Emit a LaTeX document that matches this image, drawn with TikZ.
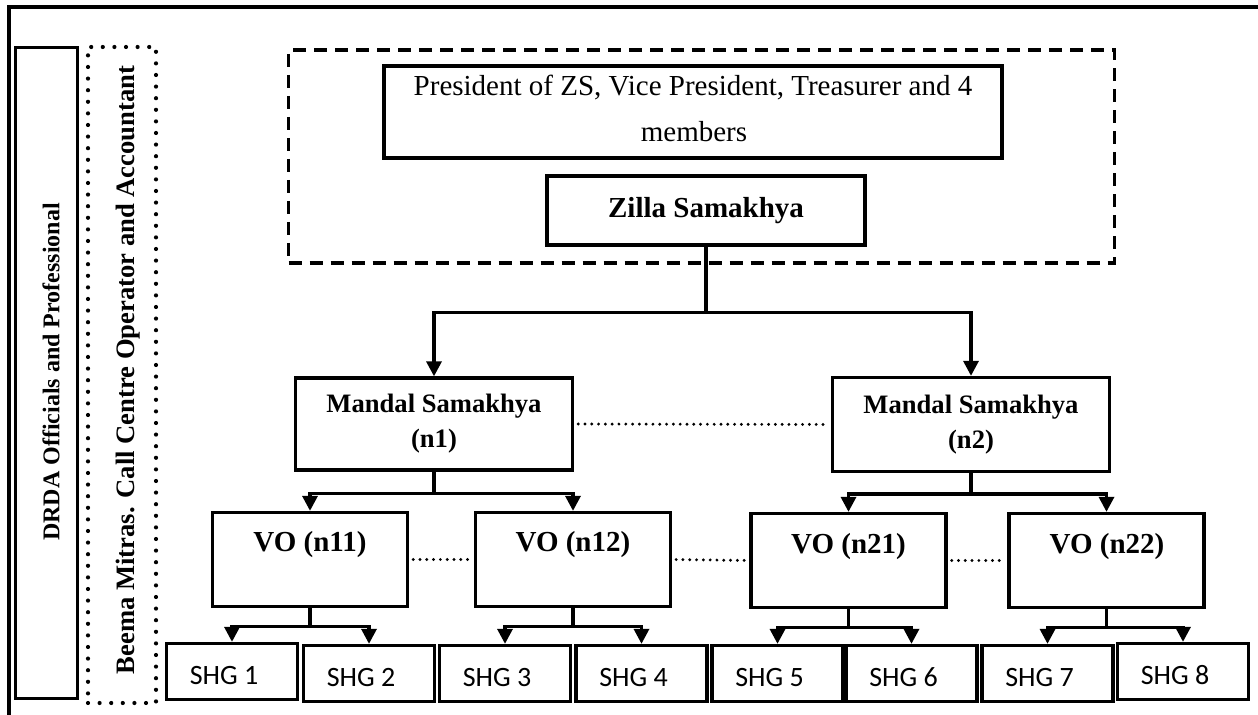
\documentclass[tikz,border=0pt]{standalone}
\usepackage{fontspec}
\setmainfont{Liberation Serif}
\newfontfamily\shgfont{Carlito}
\usetikzlibrary{arrows.meta}
\begin{document}
\begin{tikzpicture}[x=0.5pt,y=-0.5pt,
  box/.style={draw, line width=1.65pt, inner sep=0pt, align=center},
  dashbox/.style={draw, line width=1.6pt, inner sep=0pt, dash pattern=on 6.5pt off 4pt},
  dotbox/.style={draw, line width=2.1pt, inner sep=0pt, dash pattern=on 0pt off 5.8pt, line cap=round},
  conn/.style={line width=1.65pt, -{Triangle[width=7.5pt,length=7.5pt]}},
  dotline/.style={line width=1.6pt, dash pattern=on 0pt off 3.4pt, line cap=round, shorten <=2pt, shorten >=2pt},
  serif/.style={font=\fontsize{14.5}{17}\selectfont, inner sep=0pt},
  bserif/.style={font=\bfseries\fontsize{14.5}{17}\selectfont},
  mandal/.style={box, font=\bfseries\fontsize{13.3}{17.5}\selectfont, minimum width=138.5pt, minimum height=46pt},
  vobox/.style={box, minimum width=97.5pt, minimum height=47pt},
  votext/.style={font=\bfseries\fontsize{14.5}{17}\selectfont, inner sep=0pt, anchor=base},
  shg/.style={box, font=\shgfont\fontsize{14}{16}\selectfont, minimum width=65.5pt, minimum height=28pt, text height=12.5pt, text depth=0pt},
  vtext/.style={rotate=90, inner sep=0pt}
]
\useasboundingbox (0,0) rectangle (1258,715);
% outer frame
\coordinate (fbl) at (9,715);
\coordinate (ftl) at (9,7);
\coordinate (ftr) at (1258,7);
\draw[line width=1.8pt] (fbl) -- (ftl) -- (ftr);

% left vertical boxes
\node[box, minimum width=31pt, minimum height=325.5pt] (drda) at (46.5,373) {};
\node[vtext, font=\bfseries\fontsize{12}{14}\selectfont] (drdat) at (51,372) {DRDA Officials and Professional};
\node[dotbox, minimum width=34pt, minimum height=328pt] (beema) at (122,375) {};
\node[vtext, font=\bfseries\fontsize{13.3}{15}\selectfont] (beemat) at (128,370) {Beema Mitras. Call Centre Operator and Accountant};

% top group
\node[dashbox, minimum width=413pt, minimum height=106.5pt] (grp) at (701.5,156.5) {};
\node[box, minimum width=309pt, minimum height=46pt] (pres) at (693,112) {};
\node[serif, anchor=base] (pres1) at (693,96) {President of ZS, Vice President, Treasurer and 4};
\node[serif, anchor=base] (pres2) at (694,142) {members};
\node[box, bserif, minimum width=159pt, minimum height=34.5pt] (zilla) at (706,210.5) {Zilla Samakhya};

% mandal level
\node[mandal] (ms1) at (434,424) {Mandal Samakhya\\(n1)};
\node[mandal, minimum height=47pt] (ms2) at (971,424.5) {Mandal Samakhya\\(n2)};

% VO level
\node[vobox] (vo11) at (310,559.5) {};
\node[votext] (vo11t) at (310,552) {VO (n11)};
\node[vobox] (vo12) at (573,559.5) {};
\node[votext] (vo12t) at (573,552) {VO (n12)};
\node[vobox] (vo21) at (848.5,560.5) {};
\node[votext] (vo21t) at (848.5,553) {VO (n21)};
\node[vobox] (vo22) at (1106.5,560.5) {};
\node[votext] (vo22t) at (1107,553) {VO (n22)};

% SHG level
\node[shg] (shg1) at (232,671.5) {SHG 1\hspace{8pt}};
\node[shg] (shg2) at (369,673.5) {SHG 2\hspace{8pt}};
\node[shg] (shg3) at (505,673.5) {SHG 3\hspace{8pt}};
\node[shg] (shg4) at (641.5,673.5) {SHG 4\hspace{8pt}};
\node[shg] (shg5) at (777.5,673.5) {SHG 5\hspace{8pt}};
\node[shg] (shg6) at (911.5,673.5) {SHG 6\hspace{8pt}};
\node[shg] (shg7) at (1047.5,673.5) {SHG 7\hspace{8pt}};
\node[shg] (shg8) at (1183,671.5) {SHG 8\hspace{8pt}};

% connectors
\draw[conn] (zilla.south) -- ++(0,66) coordinate (zj) -| (ms1.north);
\draw[conn] (zj) -| (ms2.north);
\draw[conn] (ms1.south) -- ++(0,22) coordinate (m1j) -| (vo11.north);
\draw[conn] (m1j) -| (vo12.north);
\draw[conn] (ms2.south) -- ++(0,21) coordinate (m2j) -| (vo21.north);
\draw[conn] (m2j) -| (vo22.north);
\foreach \v/\a/\b in {vo11/shg1/shg2, vo12/shg3/shg4, vo21/shg5/shg6, vo22/shg7/shg8} {
  \draw[conn] (\v.south) -- ++(0,18) coordinate (\v j) -| (\a.north);
  \draw[conn] (\v j) -| (\b.north);
}

% dotted links
\draw[dotline] (ms1.east) -- (ms2.west);
\draw[dotline] (vo11.east) -- (vo12.west);
\draw[dotline] (vo12.east) -- (vo21.west);
\draw[dotline] (vo21.east) -- (vo22.west);
\end{tikzpicture}
\end{document}
